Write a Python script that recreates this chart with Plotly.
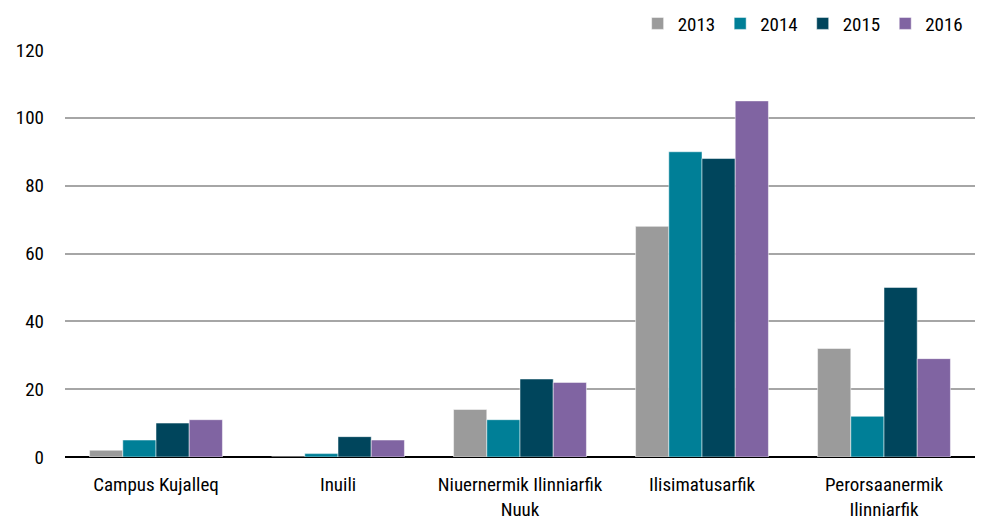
import plotly.graph_objects as go

categories = ["Campus Kujalleq", "Inuili", "Niuernermik Ilinniarfik<br>Nuuk", "Ilisimatusarfik", "Perorsaanermik<br>Ilinniarfik"]
years = ["2013", "2014", "2015", "2016"]
v2013 = [2, 0, 14, 68, 32]
v2014 = [5, 1, 11, 90, 12]
v2015 = [10, 6, 23, 88, 50]
v2016 = [11, 5, 22, 105, 29]
colors = ["#9B9B9B", "#007F97", "#00455C", "#8064A2"]

fig = go.Figure()
for name, vals, c in zip(years, [v2013, v2014, v2015, v2016], colors):
    fig.add_trace(go.Bar(x=categories, y=vals, name=name, marker=dict(color=c, line=dict(color="white", width=0.5))))

font = "Roboto Condensed, Arial Narrow, sans-serif"
fig.update_layout(
    width=984, height=508,
    margin=dict(l=57, r=17, t=42, b=59, autoexpand=False),
    plot_bgcolor="white", paper_bgcolor="white",
    barmode="group", bargap=0.27, bargroupgap=0,
    font=dict(family=font, size=19, color="black"),
    legend=dict(orientation="h", x=0.993, xanchor="right", y=1.065, yanchor="middle",
                font=dict(size=19), itemwidth=30, traceorder="normal"),
    xaxis=dict(showgrid=False, ticks="", showline=False, tickfont=dict(size=19), ticklabelstandoff=14),
    yaxis=dict(range=[0, 120], dtick=20, showgrid=True, gridcolor="#A6A6A6", gridwidth=1.5,
               zeroline=True, zerolinecolor="black", zerolinewidth=2, ticks="",
               tickfont=dict(size=19), ticklabelstandoff=20),
)
fig.write_html("out.html")
